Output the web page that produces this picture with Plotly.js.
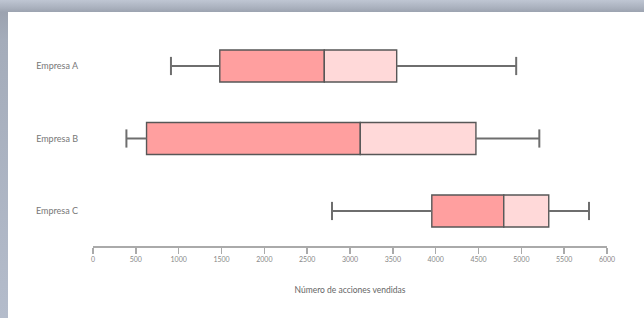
<!DOCTYPE html>
<html>
<head>
<meta charset="utf-8">
<script src="https://cdn.plot.ly/plotly-3.0.1.min.js"></script>
<style>
  html, body { margin: 0; padding: 0; width: 644px; height: 318px; overflow: hidden; }
  body { background: linear-gradient(to bottom, #bfc6d3 0px, #a9b0bd 8px, #9ca3b0 12px, #a4acba 40px, #b4bccb 318px); position: relative; }
  #chart { position: absolute; left: 8px; top: 12px; width: 636px; height: 306px; background: #fff; }
</style>
</head>
<body>
<div id="chart"></div>
<script>
// Data
const companies = ["Empresa A", "Empresa B", "Empresa C"];
const minVals    = [910, 390, 2790];
const q1Vals     = [1480, 625, 3955];
const medianVals = [2700, 3120, 4795];
const q3Vals     = [3545, 4470, 5320];
const maxVals    = [4940, 5210, 5790];
const xTickVals  = [0, 500, 1000, 1500, 2000, 2500, 3000, 3500, 4000, 4500, 5000, 5500, 6000];
const xTickText  = ["0", "500", "1000", "1500", "2000", "2500", "3000", "3500", "4000", "4500", "5000", "5500", "6000"];

const boxLine = { color: "#575757", width: 1.4 };

const lowerBox = {
  type: "bar", orientation: "h",
  y: companies,
  base: q1Vals,
  x: medianVals.map((m, i) => m - q1Vals[i]),
  width: 0.44,
  marker: { color: "#ff9f9f", line: boxLine },
  hoverinfo: "skip", showlegend: false
};
const upperBox = {
  type: "bar", orientation: "h",
  y: companies,
  base: medianVals,
  x: q3Vals.map((q, i) => q - medianVals[i]),
  width: 0.44,
  marker: { color: "#ffd9d9", line: boxLine },
  hoverinfo: "skip", showlegend: false
};

const wx = [], wy = [];
companies.forEach((c, i) => {
  wx.push(minVals[i], q1Vals[i], null, q3Vals[i], maxVals[i], null);
  wy.push(c, c, null, c, c, null);
});
const whiskers = {
  type: "scatter", mode: "lines", x: wx, y: wy,
  line: { color: "#6e6e6e", width: 2 },
  hoverinfo: "skip", showlegend: false, connectgaps: false
};
const caps = {
  type: "scatter", mode: "markers",
  x: minVals.concat(maxVals),
  y: companies.concat(companies),
  marker: { symbol: "line-ns-open", size: 13, color: "#6e6e6e", line: { color: "#6e6e6e", width: 2 } },
  hoverinfo: "skip", showlegend: false
};

const layout = {
  width: 636, height: 306,
  margin: { l: 85, r: 37, t: 11, b: 72 },
  paper_bgcolor: "#ffffff", plot_bgcolor: "#ffffff",
  barmode: "overlay",
  font: { family: "Lato, 'Open Sans', sans-serif", color: "#666666" },
  xaxis: {
    range: [0, 6000],
    tickvals: xTickVals, ticktext: xTickText,
    showgrid: false, zeroline: false,
    showline: true, linecolor: "#aaaaaa", linewidth: 1.5,
    ticks: "outside", ticklen: 6, tickwidth: 1.5, tickcolor: "#aaaaaa",
    tickfont: { size: 7, color: "#888888" },
    title: { text: "Número de acciones vendidas", font: { size: 8.5, color: "#666666" }, standoff: 25 },
    automargin: false, fixedrange: true
  },
  yaxis: {
    type: "category",
    categoryorder: "array", categoryarray: companies,
    range: [2.483, -0.593],
    showgrid: false, zeroline: false, showline: false,
    ticks: "", ticklabelstandoff: 14,
    tickfont: { size: 9, color: "#777777" },
    automargin: false, fixedrange: true
  }
};

Plotly.newPlot("chart", [lowerBox, upperBox, whiskers, caps], layout, { staticPlot: true, displayModeBar: false });
</script>
</body>
</html>
